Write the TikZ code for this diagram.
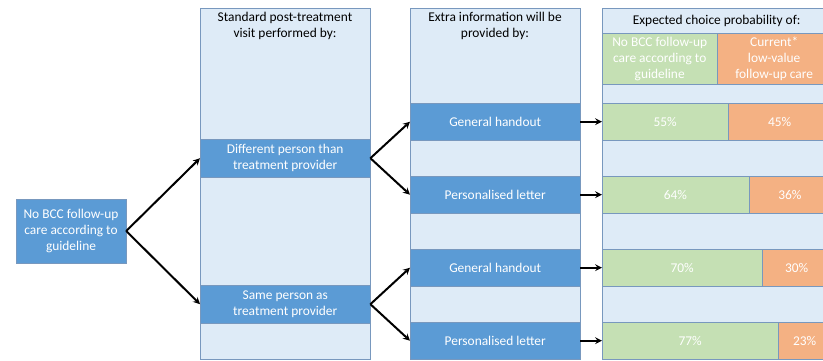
\documentclass[tikz,border=0pt]{standalone}
\usepackage{fontspec}
\setmainfont{Carlito}
\usepackage{tikz}
\usetikzlibrary{arrows}
\definecolor{boxblue}{RGB}{91,155,213}
\definecolor{paleblue}{RGB}{222,235,247}
\definecolor{palegreen}{RGB}{197,224,180}
\definecolor{paleorange}{RGB}{244,177,131}
\definecolor{rim}{RGB}{120,152,190}
\tikzstyle{column} = [rectangle, anchor=north west, inner sep=0pt, draw=rim, fill=paleblue]
\tikzstyle{option} = [rectangle, anchor=north west, inner sep=0pt, minimum width=170pt, minimum height=37pt, text centered, align=center, draw=rim, fill=boxblue, text=white]
\tikzstyle{start} = [rectangle, inner sep=0pt, minimum width=110pt, minimum height=64pt, text centered, align=center, draw=rim, fill=boxblue, text=white]
\tikzstyle{follow} = [rectangle, anchor=north west, inner sep=0pt, minimum height=37pt, text centered, align=center, draw=rim, fill=palegreen, text=white]
\tikzstyle{lowval} = [rectangle, anchor=north west, inner sep=0pt, minimum height=37pt, text centered, align=center, draw=rim, fill=paleorange, text=white]
\tikzstyle{arrow} = [line width=2pt,->,>=stealth]

\begin{document}
\begin{tikzpicture}[x=1pt, y=-1pt, font=\fontsize{13.4pt}{16pt}\selectfont]
\useasboundingbox (0,0) rectangle (823,360);
\clip (0,0) rectangle (823,360);

\node (col1) [column, minimum width=170pt, minimum height=351pt] at (200,8) {};
\node (col2) [column, minimum width=170pt, minimum height=351pt] at (410,8) {};
\node (col3) [column, minimum width=229pt, minimum height=351pt] at (602,8) {};

\node (head1) [align=center] at (285,26) {Standard post-treatment\\visit performed by:};
\node (head2) [align=center] at (495,26) {Extra information will be\\provided by:};
\node (head3) [column, minimum width=229pt, minimum height=25pt] at (602,8) {};
\node at (head3) {Expected choice probability of:};
\node (subno) [follow, minimum width=115pt, minimum height=51pt] at (602,33) {No BCC follow-up\\care according to\\guideline};
\node (subcur) [lowval, minimum width=114pt, minimum height=51pt] at (717,33) {Current*\\low-value\\follow-up care};

\node (start) [start] at (71,231) {No BCC follow-up\\care according to\\guideline};
\node (diff) [option, minimum height=38pt] at (200,139) {Different person than\\treatment provider};
\node (same) [option, minimum height=38pt] at (200,285) {Same person as\\treatment provider};

\node (gen1) [option] at (410,103) {General handout};
\node (pers1) [option] at (410,176) {Personalised letter};
\node (gen2) [option] at (410,249) {General handout};
\node (pers2) [option] at (410,322) {Personalised letter};

\node (bar1) [follow, minimum width=126pt] at (602,103) {55\%};
\node (rest1) [lowval, minimum width=103pt] at (728,103) {45\%};
\node (bar2) [follow, minimum width=146.5pt] at (602,176) {64\%};
\node (rest2) [lowval, minimum width=82.5pt] at (748.5,176) {36\%};
\node (bar3) [follow, minimum width=160pt] at (602,249) {70\%};
\node (rest3) [lowval, minimum width=69pt] at (762,249) {30\%};
\node (bar4) [follow, minimum width=176pt] at (602,322) {77\%};
\node (rest4) [lowval, minimum width=53pt] at (778,322) {23\%};

\draw [arrow] (start.east) -- (diff.west);
\draw [arrow] (start.east) -- (same.west);
\draw [arrow] (diff.east) -- (gen1.west);
\draw [arrow] (diff.east) -- (pers1.west);
\draw [arrow] (same.east) -- (gen2.west);
\draw [arrow] (same.east) -- (pers2.west);
\draw [arrow] (gen1) -- (bar1);
\draw [arrow] (pers1) -- (bar2);
\draw [arrow] (gen2) -- (bar3);
\draw [arrow] (pers2) -- (bar4);
\end{tikzpicture}
\end{document}
